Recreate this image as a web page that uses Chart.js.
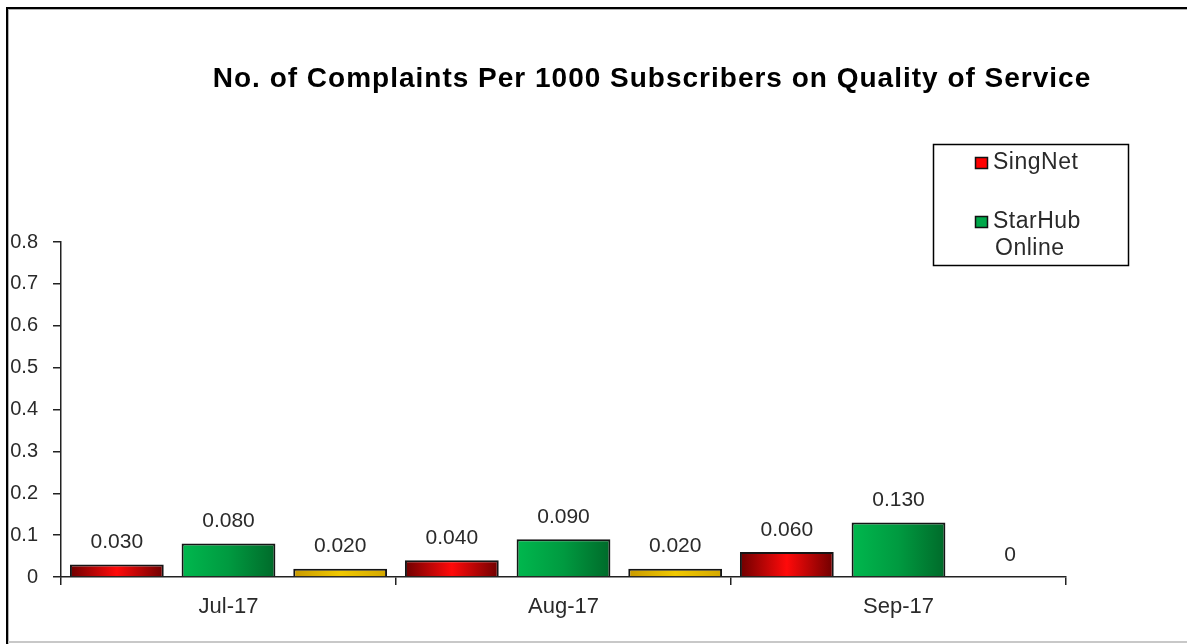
<!DOCTYPE html>
<html>
<head>
    <title>Complaints per 1000 subscribers</title>
    <script src="https://cdn.jsdelivr.net/npm/chart.js"></script>
    <style>
        body { margin: 0; background: #fff; }
        canvas { display: block; }
    </style>
</head>
<body>
    <canvas id="grafico" width="1187" height="644"></canvas>
    <script>
        // datos
        const months = ['Jul-17', 'Aug-17', 'Sep-17'];
        const singnet = [0.030, 0.040, 0.060];
        const starhub = [0.080, 0.090, 0.130];
        const otherIsp = [0.020, 0.020, 0];
        const yTicks = [0, 0.1, 0.2, 0.3, 0.4, 0.5, 0.6, 0.7, 0.8];

        const FONT = '"Liberation Sans", Arial, sans-serif';
        const BAR_PCT = 0.84;

        // degradados como en Excel
        const redStops = ['#6e0000', '#ff0a0a', '#6e0000'];
        const greenStops = ['#00b84e', '#009a40', '#006a2a'];
        const yellowStops = ['#c99a00', '#f0c800', '#d4a800'];

        function barFill(stops) {
            return function (ctx) {
                const chart = ctx.chart;
                const xs = chart.scales.x;
                if (!xs || ctx.type !== 'data') return stops[1];
                const cw = (xs.right - xs.left) / months.length;
                const slot = cw / 3;
                const bw = slot * BAR_PCT;
                const x0 = xs.left + cw * ctx.dataIndex + slot * ctx.datasetIndex + (slot - bw) / 2;
                if (!isFinite(x0) || !isFinite(bw) || bw <= 0) return stops[1];
                const g = chart.ctx.createLinearGradient(x0, 0, x0 + bw, 0);
                g.addColorStop(0, stops[0]);
                g.addColorStop(0.5, stops[1]);
                g.addColorStop(1, stops[2]);
                return g;
            };
        }

        const extras = {
            id: 'extras',
            beforeDraw(chart) {
                const c = chart.ctx;
                c.save();
                // marco
                c.fillStyle = '#000';
                c.fillRect(6, 7, 2, 637);
                c.fillRect(6, 7, 1181, 2);
                c.fillStyle = '#b0b0b0';
                c.fillRect(8, 9, 1, 635);
                c.fillRect(8, 9, 1179, 1);
                c.fillStyle = '#c8c8c8';
                c.fillRect(8, 641, 1179, 2);
                c.restore();
            },
            afterDraw(chart) {
                const c = chart.ctx;
                c.save();
                // titulo
                c.fillStyle = '#000';
                c.font = 'bold 28px ' + FONT;
                c.letterSpacing = '1px';
                c.textAlign = 'center';
                c.textBaseline = 'middle';
                c.fillText('No. of Complaints Per 1000 Subscribers on Quality of Service', 652, 79);

                // etiquetas de valores
                c.font = '21px ' + FONT;
                c.letterSpacing = '0px';
                c.fillStyle = '#2a2a2a';
                chart.data.datasets.forEach((ds, di) => {
                    const meta = chart.getDatasetMeta(di);
                    meta.data.forEach((bar, i) => {
                        const v = ds.data[i];
                        const txt = v === 0 ? '0' : v.toFixed(3);
                        c.fillText(txt, bar.x, bar.y - 22);
                    });
                });

                // leyenda
                c.lineWidth = 1.5;
                c.strokeStyle = '#000';
                c.strokeRect(933.5, 144.5, 195, 121);
                c.textAlign = 'left';
                c.font = '23px ' + FONT;
                c.letterSpacing = '0.5px';
                c.fillStyle = '#ff0000';
                c.fillRect(975, 157, 13, 12);
                c.fillStyle = '#00a84a';
                c.fillRect(975, 216, 13, 12);
                c.lineWidth = 1.5;
                c.strokeStyle = '#111';
                c.strokeRect(975.5, 157.5, 12, 11);
                c.strokeRect(975.5, 216.5, 12, 11);
                c.fillStyle = '#2a2a2a';
                c.fillText('SingNet', 993, 163);
                c.fillText('StarHub', 993, 222);
                c.fillText('Online', 995, 249);
                c.restore();
            }
        };

        new Chart(document.getElementById('grafico'), {
            type: 'bar',
            data: {
                labels: months,
                datasets: [
                    { label: 'SingNet', data: singnet, backgroundColor: barFill(redStops) },
                    { label: 'StarHub Online', data: starhub, backgroundColor: barFill(greenStops) },
                    { label: 'Other', data: otherIsp, backgroundColor: barFill(yellowStops) }
                ].map(d => Object.assign(d, {
                    borderColor: '#151515',
                    borderWidth: 2,
                    borderSkipped: 'bottom',
                    categoryPercentage: 1.0,
                    barPercentage: BAR_PCT
                }))
            },
            options: {
                responsive: false,
                animation: false,
                layout: { padding: { top: 242, right: 121, left: 0, bottom: 0 } },
                plugins: {
                    legend: { display: false },
                    tooltip: { enabled: false }
                },
                scales: {
                    x: {
                        afterFit(s) { s.height = 67; },
                        border: { color: '#222', width: 1.5 },
                        grid: { drawOnChartArea: false, tickLength: 8, color: '#222', lineWidth: 1.5 },
                        ticks: { color: '#2a2a2a', font: { family: FONT, size: 22 }, padding: 9 }
                    },
                    y: {
                        min: 0,
                        max: 0.8,
                        afterFit(s) { s.width = 61; },
                        afterBuildTicks(s) { s.ticks = yTicks.map(v => ({ value: v })); },
                        border: { color: '#222', width: 1.5 },
                        grid: { drawOnChartArea: false, tickLength: 8, color: '#222', lineWidth: 1.5 },
                        ticks: {
                            color: '#2a2a2a',
                            font: { family: FONT, size: 20 },
                            padding: 15,
                            callback: v => String(v)
                        }
                    }
                }
            },
            plugins: [extras]
        });
    </script>
</body>
</html>
